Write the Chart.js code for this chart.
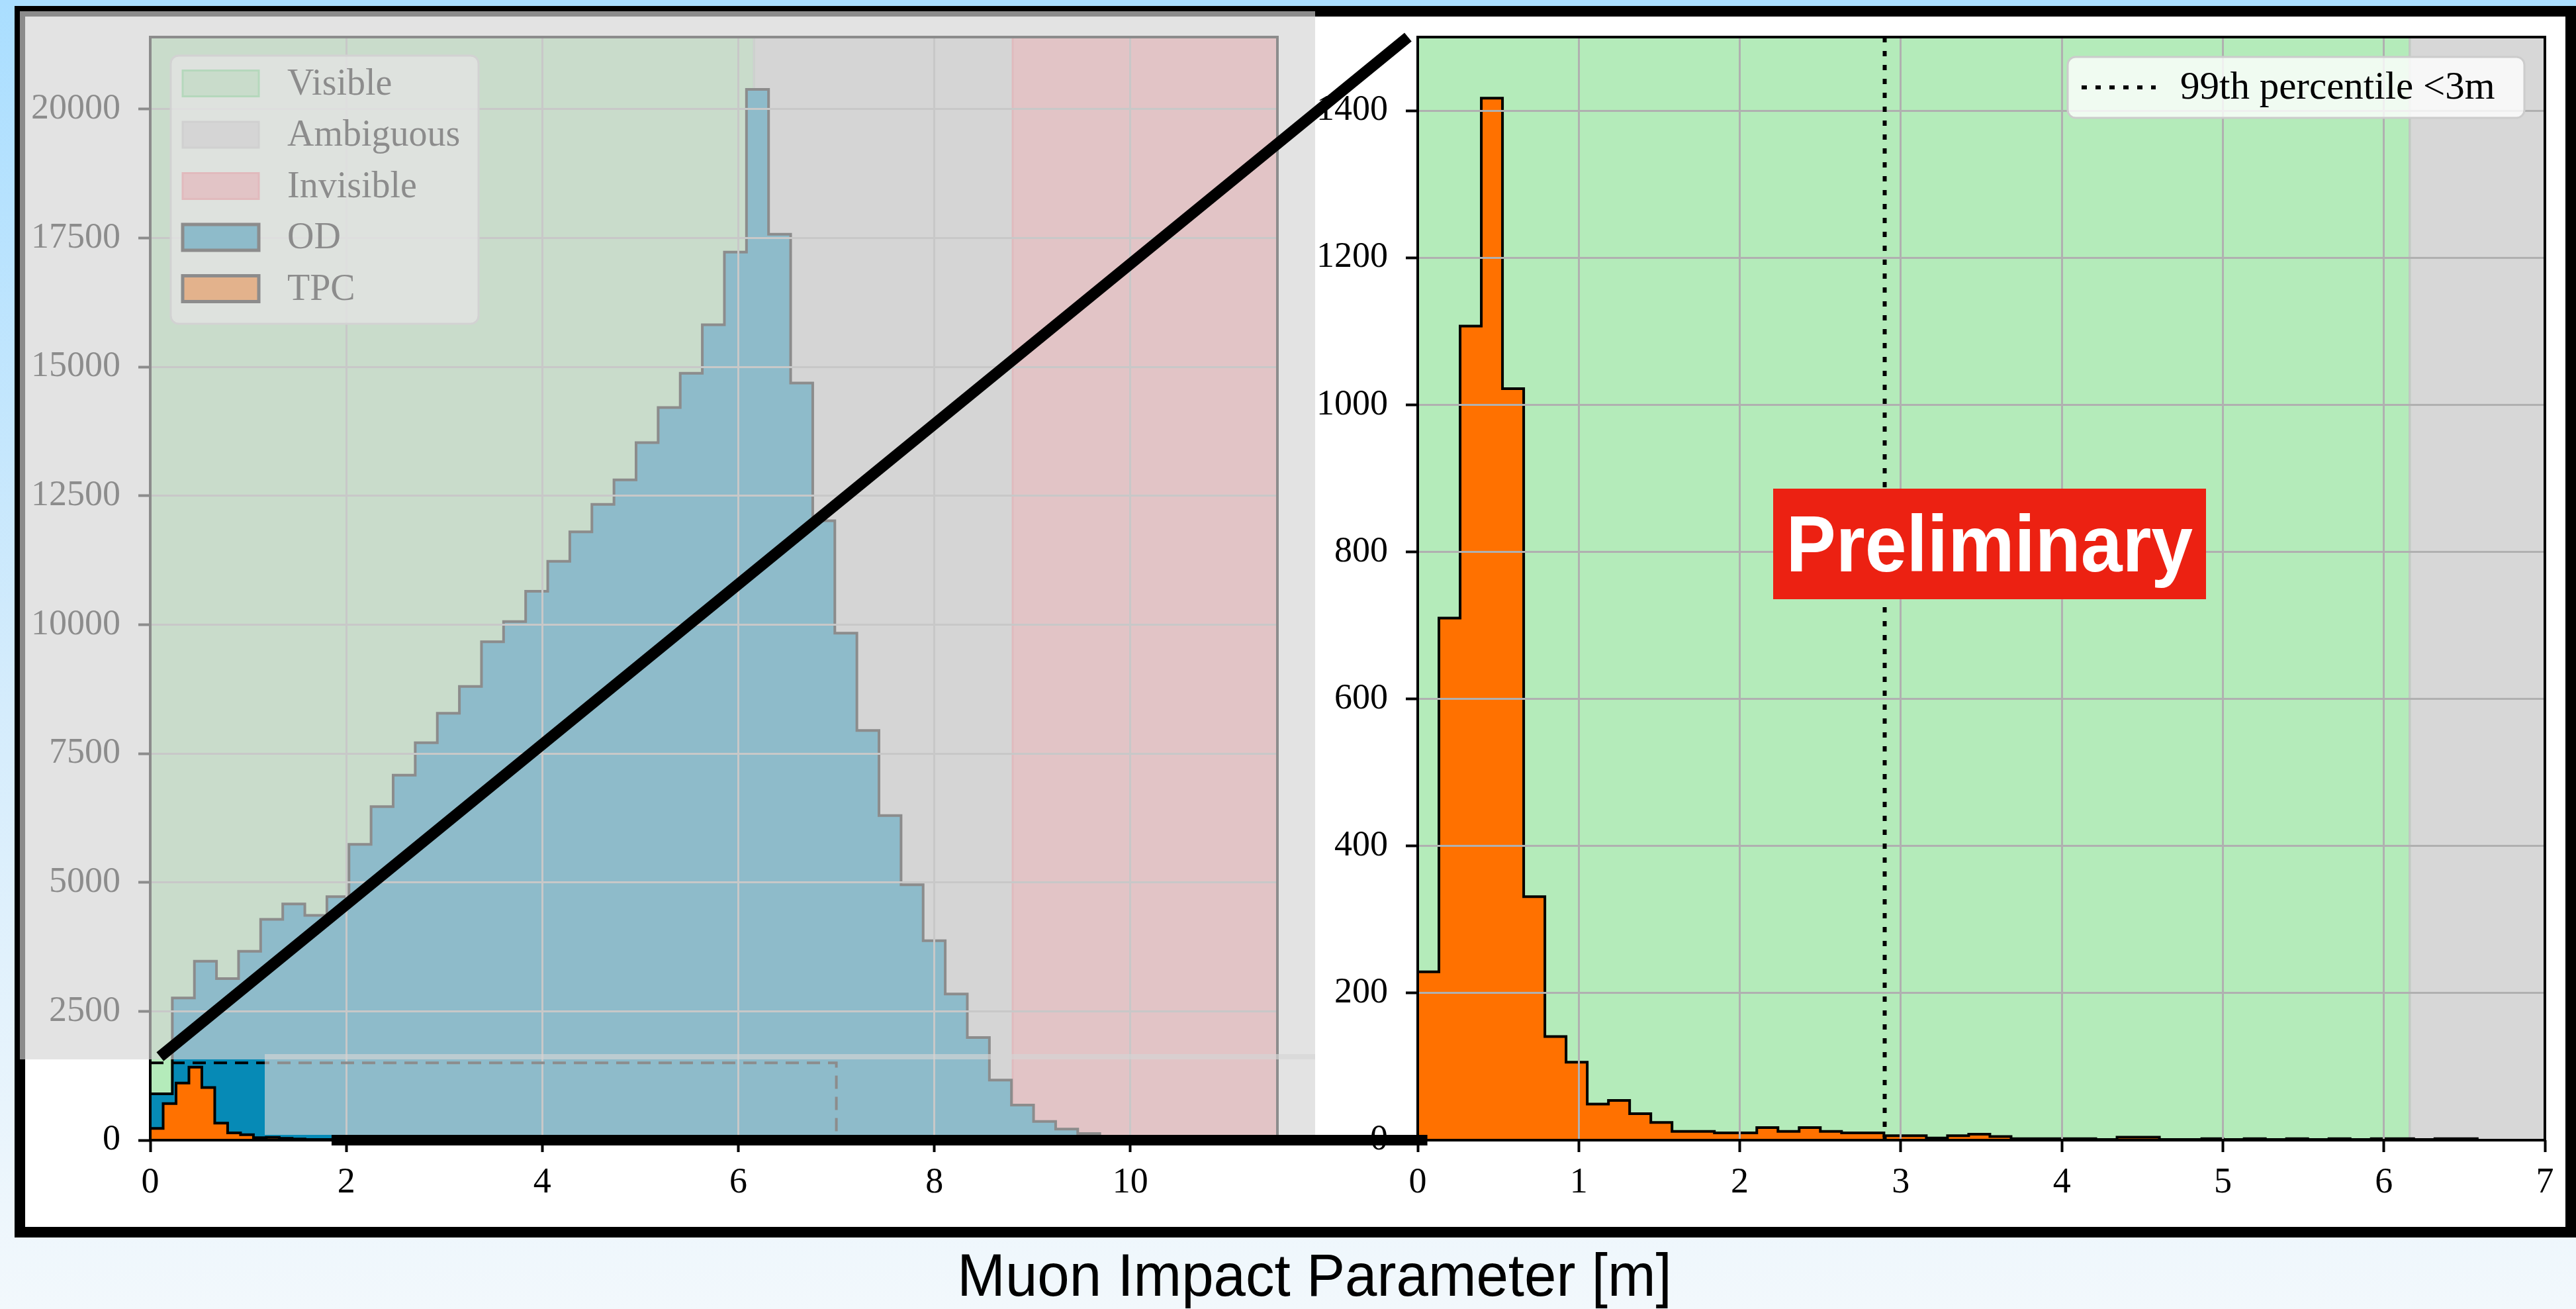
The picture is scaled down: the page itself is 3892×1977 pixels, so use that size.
<!DOCTYPE html>
<html>
<head>
<meta charset="utf-8">
<title>Muon Impact Parameter</title>
<script src="https://cdn.jsdelivr.net/npm/chart.js@4.4.1/dist/chart.umd.min.js"></script>
<style>
	html, body { margin: 0; padding: 0; }
	body {
		position: relative; width: 3892px; height: 1977px; overflow: hidden;
		background: linear-gradient(to bottom, #aadeff 0%, #d2ebfc 50%, #f2f8fc 100%);
	}
	#marco { position: absolute; left: 22px; top: 9px; width: 3870px; height: 1860px; box-sizing: border-box; border: 16px solid #000; background: #fff; }
	canvas { position: absolute; }
	#izq { left: 38px; top: 25px; }
	#der { left: 1987px; top: 25px; }
	.velo { position: absolute; background: rgba(212, 212, 212, 0.657); }
	#velo1 { left: 30px; top: 17px; width: 1957px; height: 1583px; }
	#velo2 { left: 400px; top: 1592px; width: 1587px; height: 122px; }
	#preliminar {
		position: absolute; left: 2679px; top: 738px; width: 654px; height: 167px;
		background: #ec2112; color: #fff; text-align: center; white-space: nowrap;
		font-family: "Liberation Sans", Arial, sans-serif; font-weight: bold; font-size: 120px; line-height: 167px;
	}
	#preliminar span { display: inline-block; transform: scaleX(0.94); }
	#titulo {
		position: absolute; left: 986px; top: 1876px; width: 2000px; text-align: center; color: #000;
		font-family: "Liberation Sans", Arial, sans-serif; font-size: 91px; line-height: 100px;
		transform: scaleX(0.957);
	}
	#lineas { left: 0; top: 0; }
</style>
</head>
<body>
	<div id="marco"></div>
	<canvas id="izq" width="1949" height="1827"></canvas>
	<canvas id="der" width="1889" height="1827"></canvas>
	<div class="velo" id="velo1"></div>
	<div class="velo" id="velo2"></div>
	<div id="preliminar"><span>Preliminary</span></div>
	<div id="titulo">Muon Impact Parameter [m]</div>
	<canvas id="lineas" width="3892" height="1977"></canvas>
<script>
// conteos por bin
const anchoBinOD = 0.2253
const cuentasOD = [900, 2760, 3470, 3135, 3665, 4283, 4583, 4362, 4724, 5740,
	6472, 7082, 7709, 8283, 8803, 9669, 10060, 10648, 11230, 11803,
	12336, 12811, 13533, 14213, 14877, 15820, 17230, 20386, 17574, 14689,
	12016, 9837, 7947, 6296, 4954, 3868, 2834, 1990, 1165, 680,
	362, 215, 130, 70, 40, 20, 10, 5, 2, 1]
const anchoBinTPC = 0.1316
const cuentasTPC = [229, 710, 1107, 1417, 1022, 331, 141, 106, 49, 54,
	36, 24, 12, 12, 10, 10, 17, 12, 17, 12,
	10, 10, 6, 6, 3, 6, 8, 5, 2, 2,
	2, 2, 1, 4, 4, 1, 1, 2, 1, 2,
	1, 2, 1, 2, 1, 2, 2, 1, 2, 2]

// regiones de visibilidad
const nombresRegion = ["Visible", "Ambiguous", "Invisible"]
const regionIzqDesde = [0, 6.16, 8.8]
const regionIzqHasta = [6.16, 8.8, 11.5]
const regionDerDesde = [0, 6.16]
const regionDerHasta = [6.16, 7]

const percentil99 = 2.9
const textoPercentil = "99th percentile <3m"

// limites de ejes y ticks
const ejeIzqX = [0, 11.5]
const ticksIzqX = [0, 2, 4, 6, 8, 10]
const ejeIzqY = [0, 21400]
const ticksIzqY = [0, 2500, 5000, 7500, 10000, 12500, 15000, 17500, 20000]
const ejeDerX = [0, 7]
const ticksDerX = [0, 1, 2, 3, 4, 5, 6, 7]
const ejeDerY = [0, 1500]
const ticksDerY = [0, 200, 400, 600, 800, 1000, 1200, 1400]

// caja de zoom y lineas que la unen al panel derecho
const cajaZoomX = [0, 7]
const cajaZoomY = [0, 1500]
const conectorDiagonal = [{x: 0.1, y: 1620}, {x: -0.06, y: 1500}]
const conectorBase = [{x: 1.85, y: 0}, {x: 0.06, y: 0}]

const colorOD = "rgb(6,138,182)"
const colorTPC = "#ff7100"
const coloresRegion = ["rgb(180,235,186)", "rgb(215,215,215)", "rgb(253,165,171)"]
const bordesRegion = ["rgb(120,222,140)", "rgb(198,198,198)", "rgb(250,135,145)"]

const fuenteSerif = '"Liberation Serif", "DejaVu Serif", serif'
Chart.defaults.font.family = fuenteSerif
Chart.defaults.color = "#000"

function escalones(ancho, cuentas){
	var puntos = [{x: 0, y: 0}]
	cuentas.forEach((c, i) => puntos.push({x: i * ancho, y: c}))
	puntos.push({x: cuentas.length * ancho, y: 0})
	return puntos
}

function histograma(nombre, ancho, cuentas, color, orden){
	return {
		label: nombre,
		data: escalones(ancho, cuentas),
		stepped: true,
		fill: "origin",
		backgroundColor: color,
		borderColor: "#000",
		borderWidth: 4,
		pointRadius: 0,
		order: orden
	}
}

function escala(limites, ticks, horizontal, ancho){
	return {
		type: "linear",
		min: limites[0],
		max: limites[1],
		afterBuildTicks: function(e){
			e.ticks = ticks.map(v => ({value: v}))
		},
		ticks: {
			autoSkip: false,
			maxRotation: 0,
			padding: horizontal ? 14 : 27,
			font: {size: 54},
			color: "#000",
			callback: v => String(v)
		},
		grid: {color: "#b0b0b0", lineWidth: 3, z: 1, tickLength: 18, tickColor: "#000", tickWidth: 4},
		border: {display: false},
		afterFit: function(e){
			if(horizontal){ e.height = 130 } else { e.width = ancho }
			e.paddingTop = 0; e.paddingBottom = 0; e.paddingLeft = 0; e.paddingRight = 0
		}
	}
}

const pluginRegiones = {
	id: "regiones",
	beforeDatasetsDraw(chart, args, op){
		const {ctx, chartArea: a, scales: {x}} = chart
		ctx.save()
		op.desde.forEach((d, i) => {
			const x0 = x.getPixelForValue(d), x1 = x.getPixelForValue(op.hasta[i])
			ctx.fillStyle = op.colores[i]
			ctx.fillRect(x0, a.top, x1 - x0, a.bottom - a.top)
		})
		op.desde.forEach((d, i) => {
			const x0 = x.getPixelForValue(d), x1 = x.getPixelForValue(op.hasta[i])
			ctx.strokeStyle = op.bordes[i]
			ctx.lineWidth = 3
			ctx.beginPath()
			ctx.moveTo(x0, a.top); ctx.lineTo(x0, a.bottom)
			ctx.moveTo(x1, a.top); ctx.lineTo(x1, a.bottom)
			ctx.stroke()
		})
		ctx.restore()
	}
}

function cajaLeyenda(ctx, x, y, w, h){
	ctx.beginPath()
	ctx.roundRect(x, y, w, h, 12)
	ctx.fillStyle = "rgba(255,255,255,0.8)"
	ctx.fill()
	ctx.strokeStyle = "#cccccc"
	ctx.lineWidth = 3
	ctx.stroke()
}

const pluginMarco = {
	id: "marco",
	afterDraw(chart, args, op){
		const {ctx, chartArea: a, scales: {x, y}} = chart
		ctx.save()

		if(op.caja){
			const x0 = x.getPixelForValue(op.caja.x[0]), x1 = x.getPixelForValue(op.caja.x[1])
			const y0 = y.getPixelForValue(op.caja.y[0]), y1 = y.getPixelForValue(op.caja.y[1])
			ctx.strokeStyle = "#000"
			ctx.lineWidth = 4
			ctx.setLineDash([20, 12])
			ctx.strokeRect(x0, y1, x1 - x0, y0 - y1)
			ctx.setLineDash([])
		}

		if(op.vertical != null){
			const xv = x.getPixelForValue(op.vertical)
			ctx.strokeStyle = "#000"
			ctx.lineWidth = 6
			ctx.setLineDash([8, 13])
			ctx.beginPath()
			ctx.moveTo(xv, a.top); ctx.lineTo(xv, a.bottom)
			ctx.stroke()
			ctx.setLineDash([])
		}

		// ejes (los cuatro lados)
		ctx.strokeStyle = "#000"
		ctx.lineWidth = 4
		ctx.strokeRect(a.left, a.top, a.right - a.left, a.bottom - a.top)

		ctx.font = "56px " + fuenteSerif
		ctx.textBaseline = "middle"
		ctx.textAlign = "left"
		ctx.fillStyle = "#000"

		if(op.leyenda){
			const l = op.leyenda
			const bx = a.left + 31, by = a.top + 28
			cajaLeyenda(ctx, bx, by, 465, 405)
			l.nombres.forEach((n, i) => {
				const cy = by + 42 + i * 77.5
				ctx.fillStyle = l.rellenos[i]
				ctx.fillRect(bx + 18, cy - 19.5, 115, 39)
				ctx.strokeStyle = l.bordes[i]
				ctx.lineWidth = l.grosores[i]
				ctx.strokeRect(bx + 18, cy - 19.5, 115, 39)
				ctx.fillStyle = "#000"
				ctx.fillText(n, bx + 176, cy + 2)
			})
		}

		if(op.leyendaLinea){
			const bx = a.right - 31 - 690, by = a.top + 30
			cajaLeyenda(ctx, bx, by, 690, 92)
			ctx.strokeStyle = "#000"
			ctx.lineWidth = 6
			ctx.setLineDash([8, 13])
			ctx.beginPath()
			ctx.moveTo(bx + 21, by + 46); ctx.lineTo(bx + 133, by + 46)
			ctx.stroke()
			ctx.setLineDash([])
			ctx.fillStyle = "#000"
			ctx.font = "59px " + fuenteSerif
			ctx.fillText(op.leyendaLinea, bx + 170, by + 47)
		}
		ctx.restore()
	}
}

const graficoIzq = new Chart(document.getElementById("izq"), {
	type: "line",
	data: {
		datasets: [
			histograma("TPC", anchoBinTPC, cuentasTPC, colorTPC, 1),
			histograma("OD", anchoBinOD, cuentasOD, colorOD, 2)
		]
	},
	options: {
		responsive: false,
		animation: false,
		layout: {padding: {left: 0, top: 31, right: 57, bottom: 0}},
		plugins: {
			legend: {display: false},
			tooltip: {enabled: false},
			regiones: {desde: regionIzqDesde, hasta: regionIzqHasta, colores: coloresRegion, bordes: bordesRegion},
			marco: {
				caja: {x: cajaZoomX, y: cajaZoomY},
				leyenda: {
					nombres: nombresRegion.concat(["OD", "TPC"]),
					rellenos: coloresRegion.concat([colorOD, colorTPC]),
					bordes: bordesRegion.concat(["#000", "#000"]),
					grosores: [3, 3, 3, 5, 5]
				}
			}
		},
		scales: {
			x: escala(ejeIzqX, ticksIzqX, true),
			y: escala(ejeIzqY, ticksIzqY, false, 189)
		}
	},
	plugins: [pluginRegiones, pluginMarco]
})

const graficoDer = new Chart(document.getElementById("der"), {
	type: "line",
	data: {
		datasets: [histograma("TPC", anchoBinTPC, cuentasTPC, colorTPC, 1)]
	},
	options: {
		responsive: false,
		animation: false,
		layout: {padding: {left: 0, top: 31, right: 31, bottom: 0}},
		plugins: {
			legend: {display: false},
			tooltip: {enabled: false},
			regiones: {desde: regionDerDesde, hasta: regionDerHasta, colores: coloresRegion, bordes: bordesRegion},
			marco: {vertical: percentil99, leyendaLinea: textoPercentil}
		},
		scales: {
			x: escala(ejeDerX, ticksDerX, true),
			y: escala(ejeDerY, ticksDerY, false, 155)
		}
	},
	plugins: [pluginRegiones, pluginMarco]
})

// lineas de zoom entre los dos paneles
function dibujarConectores(){
	const ctx = document.getElementById("lineas").getContext("2d")
	const cI = document.getElementById("izq"), cD = document.getElementById("der")
	const enIzq = p => ({x: cI.offsetLeft + graficoIzq.scales.x.getPixelForValue(p.x), y: cI.offsetTop + graficoIzq.scales.y.getPixelForValue(p.y)})
	const enDer = p => ({x: cD.offsetLeft + graficoDer.scales.x.getPixelForValue(p.x), y: cD.offsetTop + graficoDer.scales.y.getPixelForValue(p.y)})

	ctx.strokeStyle = "#000"
	ctx.lineWidth = 17
	ctx.lineCap = "butt"
	var a = enIzq(conectorDiagonal[0]), b = enDer(conectorDiagonal[1])
	ctx.beginPath(); ctx.moveTo(a.x, a.y); ctx.lineTo(b.x, b.y); ctx.stroke()
	ctx.lineWidth = 16
	a = enIzq(conectorBase[0]); b = enDer(conectorBase[1])
	ctx.beginPath(); ctx.moveTo(a.x, a.y); ctx.lineTo(b.x, b.y); ctx.stroke()
}
dibujarConectores()
</script>
</body>
</html>
